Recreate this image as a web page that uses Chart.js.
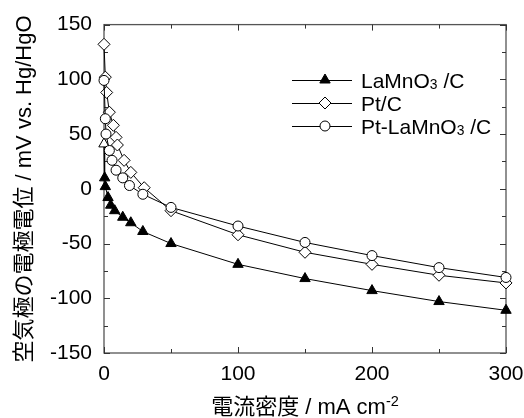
<!DOCTYPE html>
<html>
<head>
<meta charset="utf-8">
<script src="https://cdn.jsdelivr.net/npm/chart.js@4.4.0/dist/chart.umd.min.js"></script>
<style>
  html, body { margin: 0; padding: 0; background: #fff; }
</style>
</head>
<body>
<canvas id="chart" width="524" height="418"></canvas>
<script>
// ===== DATA =====
const seriesNames = ['LaMnO3/C', 'Pt/C', 'Pt-LaMnO3/C'];

const laMnO3X = [0, 0.5, 1, 3, 5, 8, 14, 20, 29, 50, 100, 150, 200, 250, 300];
const laMnO3Y = [41, 10, 2, -8, -15, -20, -26, -31, -39, -50, -69, -82, -93, -103, -111];

const ptX = [0, 1, 2, 4, 7, 9, 10, 15, 20, 30, 50, 100, 150, 200, 250, 300];
const ptY = [132, 102, 88, 70, 58, 47, 40, 26, 15, 1, -20, -42, -58, -69, -79, -86];

const ptLaX = [0, 1, 1.5, 4, 6, 9, 14, 19, 29, 50, 100, 150, 200, 250, 300];
const ptLaY = [99, 64, 50, 35, 26, 17, 10, 3, -5, -17, -34, -49, -61, -72, -81];

const xTickLabels = [0, 100, 200, 300];
const yTickLabels = [-150, -100, -50, 0, 50, 100, 150];

const FONT = '"Liberation Sans", Arial, "Noto Sans CJK JP", sans-serif';

function toPoints(xs, ys) {
    return xs.map((x, i) => ({ x: x, y: ys[i] }));
}

// frame + inward ticks on all four sides
const framePlugin = {
    id: 'frame',
    beforeDatasetsDraw(chart) {
        const ctx = chart.ctx;
        const a = chart.chartArea;
        const xs = chart.scales.x;
        const ys = chart.scales.y;
        ctx.save();
        ctx.strokeStyle = '#555';
        ctx.lineWidth = 1.3;
        ctx.strokeRect(a.left, a.top, a.right - a.left, a.bottom - a.top);
        ctx.lineWidth = 1;
        ctx.strokeStyle = '#333';
        ctx.beginPath();
        for (let v = 0; v <= 300; v += 50) {
            const px = Math.round(xs.getPixelForValue(v)) + 0.5;
            const len = xTickLabels.includes(v) ? 6 : 4;
            ctx.moveTo(px, a.bottom); ctx.lineTo(px, a.bottom - len);
            ctx.moveTo(px, a.top); ctx.lineTo(px, a.top + len);
        }
        for (let v = -150; v <= 150; v += 25) {
            const py = Math.round(ys.getPixelForValue(v)) + 0.5;
            const len = yTickLabels.includes(v) ? 6 : 4;
            ctx.moveTo(a.left, py); ctx.lineTo(a.left + len, py);
            ctx.moveTo(a.right, py); ctx.lineTo(a.right - len, py);
        }
        ctx.stroke();
        ctx.restore();
    }
};

// draw text pieces with sub / superscripts
function drawRich(ctx, parts, x, y, size) {
    let cx = x;
    parts.forEach(p => {
        let s = size, dy = 0;
        if (p[1] === 'sub') { s = size * 0.66; dy = size * 0.05; }
        if (p[1] === 'sup') { s = size * 0.66; dy = -size * 0.38; }
        ctx.font = s + 'px ' + FONT;
        ctx.fillText(p[0], cx, y + dy);
        cx += ctx.measureText(p[0]).width;
    });
    return cx - x;
}

function richWidth(ctx, parts, size) {
    let w = 0;
    parts.forEach(p => {
        const s = (p[1] === 'sub' || p[1] === 'sup') ? size * 0.66 : size;
        ctx.font = s + 'px ' + FONT;
        w += ctx.measureText(p[0]).width;
    });
    return w;
}

const legendRows = [
    [['LaMnO', 'n'], ['3', 'sub'], [' /C', 'n']],
    [['Pt/C', 'n']],
    [['Pt-LaMnO', 'n'], ['3', 'sub'], [' /C', 'n']]
];

const labelsPlugin = {
    id: 'labels',
    afterDraw(chart) {
        const ctx = chart.ctx;
        ctx.save();
        ctx.fillStyle = '#000';
        ctx.textBaseline = 'alphabetic';
        ctx.textAlign = 'left';

        // legend
        chart.data.datasets.forEach((ds, i) => {
            const y = 80 + i * 23;
            ctx.strokeStyle = '#000';
            ctx.lineWidth = 1;
            ctx.beginPath();
            ctx.moveTo(292, y + 0.5); ctx.lineTo(352, y + 0.5);
            ctx.stroke();
            ctx.fillStyle = ds.pointBackgroundColor instanceof Array ? ds.pointBackgroundColor[1] : ds.pointBackgroundColor;
            ctx.strokeStyle = '#000';
            Chart.helpers.drawPoint(ctx, {
                pointStyle: ds.pointStyle, radius: ds.pointRadius, rotation: 0, borderWidth: 1
            }, 325, y);
            ctx.fillStyle = '#000';
            drawRich(ctx, legendRows[i], 361, y + 8, 21);
        });

        // x title
        const xParts = [['電流密度 / mA cm', 'n'], ['-2', 'sup']];
        const w = richWidth(ctx, xParts, 22);
        drawRich(ctx, xParts, 305 - w / 2, 414, 22);

        // y title
        ctx.translate(25, 189);
        ctx.rotate(-Math.PI / 2);
        ctx.font = '22px ' + FONT;
        ctx.textAlign = 'center';
        ctx.textBaseline = 'middle';
        ctx.fillText('空気極の電極電位 / mV vs. Hg/HgO', 0, 0);
        ctx.restore();
    }
};

const ctx = document.getElementById('chart');

const chart = new Chart(ctx, {
    type: 'line',
    data: {
        datasets: [{
            label: seriesNames[0],
            data: toPoints(laMnO3X, laMnO3Y),
            borderColor: '#000',
            borderWidth: 1,
            pointStyle: 'triangle',
            pointRadius: 6,
            pointBorderWidth: 1,
            pointBorderColor: '#000',
            pointBackgroundColor: laMnO3X.map((x, i) => i === 0 ? '#fff' : '#000'),
            order: 3,
            clip: false
        }, {
            label: seriesNames[1],
            data: toPoints(ptX, ptY),
            borderColor: '#000',
            borderWidth: 1,
            pointStyle: 'rectRot',
            pointRadius: 6,
            pointBorderWidth: 1,
            pointBorderColor: '#000',
            pointBackgroundColor: '#fff',
            order: 2,
            clip: false
        }, {
            label: seriesNames[2],
            data: toPoints(ptLaX, ptLaY),
            borderColor: '#000',
            borderWidth: 1,
            pointStyle: 'circle',
            pointRadius: 5,
            pointBorderWidth: 1,
            pointBorderColor: '#000',
            pointBackgroundColor: '#fff',
            order: 1,
            clip: false
        }]
    },
    options: {
        responsive: false,
        animation: false,
        events: [],
        layout: { padding: { top: 24, right: 18, left: 0, bottom: 0 } },
        plugins: {
            legend: { display: false },
            tooltip: { enabled: false }
        },
        scales: {
            x: {
                type: 'linear',
                min: 0,
                max: 300,
                grid: { display: false, drawTicks: false },
                border: { display: false },
                afterFit: s => { s.height = 65; s.paddingLeft = 0; s.paddingRight = 0; },
                ticks: {
                    stepSize: 50,
                    padding: 9,
                    color: '#000',
                    font: { family: FONT, size: 21 },
                    maxRotation: 0,
                    autoSkip: false,
                    callback: v => xTickLabels.includes(v) ? String(v) : ''
                }
            },
            y: {
                type: 'linear',
                min: -150,
                max: 150,
                grid: { display: false, drawTicks: false },
                border: { display: false },
                afterFit: s => { s.width = 104; },
                ticks: {
                    stepSize: 25,
                    padding: 12,
                    color: '#000',
                    font: { family: FONT, size: 21 },
                    autoSkip: false,
                    callback: v => yTickLabels.includes(v) ? String(v) : ''
                }
            }
        }
    },
    plugins: [framePlugin, labelsPlugin]
});
</script>
</body>
</html>
